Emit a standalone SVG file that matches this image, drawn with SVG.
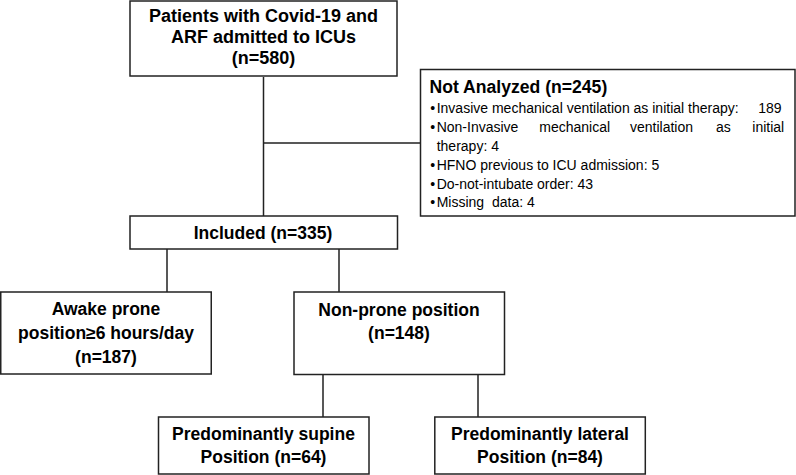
<svg xmlns="http://www.w3.org/2000/svg" width="796" height="475" viewBox="0 0 796 475">
<style>
.box{fill:#fff;stroke:#222;stroke-width:1.5}
.ln{fill:none;stroke:#222;stroke-width:1.5}
.ta{font-family:"Liberation Sans",Arial,sans-serif;font-weight:bold;font-size:18px;fill:#000;text-anchor:middle}
.tb{font-family:"Liberation Sans",Arial,sans-serif;font-weight:bold;font-size:17.5px;fill:#000;text-anchor:middle}
.th{font-family:"Liberation Sans",Arial,sans-serif;font-weight:bold;font-size:17.6px;fill:#000}
.tr{font-family:"Liberation Sans",Arial,sans-serif;font-size:14px;fill:#000}
</style>
<rect width="796" height="475" fill="#fff"/>
<g id="connectors">
<path class="ln" d="M263.5 77V216M263.5 143H420"/>
<path class="ln" d="M167 249V292M339 249V292"/>
<path class="ln" d="M323 374V417M478 374V417"/>
</g>
<g id="n-patients">
<rect class="box" x="130" y="1" width="267" height="75"/>
<text class="ta" x="263.5" y="22">Patients with Covid-19 and</text>
<text class="ta" x="263.5" y="43">ARF admitted to ICUs</text>
<text class="ta" x="263.5" y="64">(n=580)</text>
</g>
<g id="n-notanalyzed">
<rect class="box" x="420.5" y="69.5" width="374.5" height="146.5"/>
<text class="th" x="429.5" y="93.3">Not Analyzed (n=245)</text>
<text class="tr" x="430.3" y="113.3">•</text>
<text class="tr" x="436.7" y="113.3">Invasive mechanical ventilation as initial therapy:</text>
<text class="tr" x="758.3" y="113.3">189</text>
<text class="tr" x="430.3" y="132">•</text>
<text class="tr" y="132"><tspan x="436.7">Non-Invasive</tspan><tspan x="539.3">mechanical</tspan><tspan x="630">ventilation</tspan><tspan x="716">as</tspan><tspan x="752.3">initial</tspan></text>
<text class="tr" x="436.7" y="150.7">therapy: 4</text>
<text class="tr" x="430.3" y="170">•</text>
<text class="tr" x="436.7" y="170">HFNO previous to ICU admission: 5</text>
<text class="tr" x="430.3" y="189.3">•</text>
<text class="tr" x="436.7" y="189.3">Do-not-intubate order: 43</text>
<text class="tr" x="430.3" y="207.3">•</text>
<text class="tr" x="436.7" y="207.3" xml:space="preserve">Missing  data: 4</text>
</g>
<g id="n-included">
<rect class="box" x="130" y="216" width="267.5" height="33"/>
<text class="tb" x="263" y="239">Included (n=335)</text>
</g>
<g id="n-awake">
<rect class="box" x="0.75" y="292" width="210.5" height="82"/>
<text class="tb" x="106" y="315">Awake prone</text>
<text class="tb" x="106" y="339.3">position≥6 hours/day</text>
<text class="tb" x="106" y="363.3">(n=187)</text>
</g>
<g id="n-nonprone">
<rect class="box" x="294" y="292" width="210.5" height="82.5"/>
<text class="tb" x="399" y="316">Non-prone position</text>
<text class="tb" x="399" y="339.3">(n=148)</text>
</g>
<g id="n-supine">
<rect class="box" x="158.5" y="417" width="210.5" height="57"/>
<text class="tb" x="263.5" y="440">Predominantly supine</text>
<text class="tb" x="263.5" y="462.7">Position (n=64)</text>
</g>
<g id="n-lateral">
<rect class="box" x="434.8" y="417" width="210.5" height="57"/>
<text class="tb" x="540" y="440">Predominantly lateral</text>
<text class="tb" x="540" y="462.7">Position (n=84)</text>
</g>
</svg>
